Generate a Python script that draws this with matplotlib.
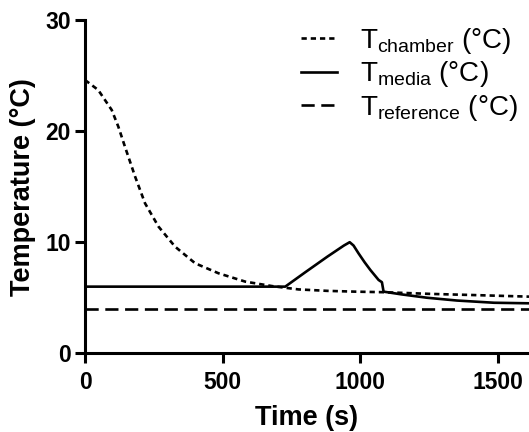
import numpy as np
import matplotlib.pyplot as plt

plt.rcParams['font.family'] = ['Liberation Sans', 'DejaVu Sans']

# chamber temperature
t_chamber = [0, 48, 97, 121, 145, 182, 218, 267, 327, 400, 485, 582, 679, 775, 880, 980, 1084, 1250, 1400, 1612]
T_chamber = [24.6, 23.7, 21.9, 20.4, 18.6, 15.9, 13.5, 11.4, 9.6, 8.1, 7.2, 6.45, 6.05, 5.75, 5.62, 5.55, 5.5, 5.35, 5.25, 5.1]

# media temperature
t_media = [0, 727, 800, 880, 940, 961, 975, 993, 1015, 1036, 1066, 1078, 1084, 1150, 1242, 1350, 1485, 1612]
T_media = [6.0, 6.0, 7.3, 8.7, 9.7, 10.0, 9.7, 9.0, 8.2, 7.5, 6.6, 6.4, 5.55, 5.3, 5.0, 4.75, 4.55, 4.5]

# reference temperature
t_ref = [0, 1612]
T_ref = [4.0, 4.0]

fig = plt.figure(figsize=(5.29, 4.32), dpi=100)
ax = fig.add_axes([85 / 529, (432 - 353.3) / 432, 444 / 529, 333.3 / 432])

ax.plot(t_chamber, T_chamber, color='black', lw=1.9, linestyle=(0, (2.0, 1.5)),
        label=r'T$_\mathregular{chamber}$ (°C)')
ax.plot(t_media, T_media, color='black', lw=1.9, linestyle='-',
        label=r'T$_\mathregular{media}$ (°C)')
ax.plot(t_ref, T_ref, color='black', lw=1.9, linestyle=(0, (5, 2.5)),
        label=r'T$_\mathregular{reference}$ (°C)')

ax.set_xlim(0, 1612)
ax.set_ylim(0, 30)
ax.set_xticks([0, 500, 1000, 1500])
ax.set_yticks([0, 10, 20, 30])

for s in ['top', 'right']:
    ax.spines[s].set_visible(False)
for s in ['left', 'bottom']:
    ax.spines[s].set_linewidth(2.2)
ax.tick_params(direction='out', length=7, width=2.2, labelsize=16.5)
ax.tick_params(axis='x', pad=6)
ax.tick_params(axis='y', pad=3)
for lab in ax.get_xticklabels() + ax.get_yticklabels():
    lab.set_fontweight('bold')

ax.set_xlabel('Time (s)', fontsize=19.5, fontweight='bold', labelpad=8)
ax.set_ylabel('Temperature (°C)', fontsize=19.5, fontweight='bold', labelpad=7)

leg = ax.legend(loc='upper left', bbox_to_anchor=(0.462, 1.015), frameon=False,
                fontsize=20, handlelength=1.3, handletextpad=0.8, labelspacing=0.12,
                borderaxespad=0)

fig.savefig('out.png', dpi=100)
